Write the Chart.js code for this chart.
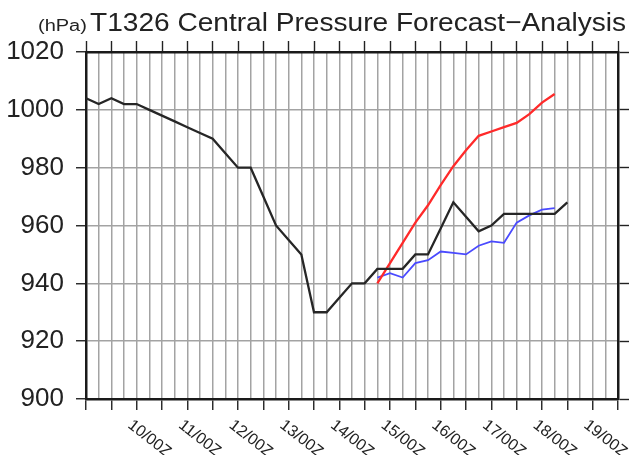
<!DOCTYPE html>
<html>
<head>
<meta charset="utf-8">
<script src="https://cdn.jsdelivr.net/npm/chart.js@4.4.0/dist/chart.umd.min.js"></script>
<style>
html, body { margin: 0; padding: 0; background: #fff; }
</style>
</head>
<body>
<canvas id="pressureChart" width="642" height="455"></canvas>
<script>
// T1326 central pressure: analysis (black) and two forecast runs (red, blue)

const unitLabel = '(hPa)';
const titleText = 'T1326 Central Pressure Forecast\u2212Analysis';

// 6-hourly times, 09/00Z to 19/12Z
const times = [
    '09/00Z','09/06Z','09/12Z','09/18Z','10/00Z','10/06Z','10/12Z','10/18Z',
    '11/00Z','11/06Z','11/12Z','11/18Z','12/00Z','12/06Z','12/12Z','12/18Z',
    '13/00Z','13/06Z','13/12Z','13/18Z','14/00Z','14/06Z','14/12Z','14/18Z',
    '15/00Z','15/06Z','15/12Z','15/18Z','16/00Z','16/06Z','16/12Z','16/18Z',
    '17/00Z','17/06Z','17/12Z','17/18Z','18/00Z','18/06Z','18/12Z','18/18Z',
    '19/00Z','19/06Z','19/12Z'
];
const xDayLabels = ['10/00Z','11/00Z','12/00Z','13/00Z','14/00Z','15/00Z','16/00Z','17/00Z','18/00Z','19/00Z'];
const yTickLabels = [900, 920, 940, 960, 980, 1000, 1020];

// analysis, every 6h from 09/00Z
const analysis = [1004, 1002, 1004, 1002, 1002, 1000, 998, 996, 994, 992, 990, 985, 980, 980,
    970, 960, 955, 950, 930, 930, 935, 940, 940, 945, 945, 945, 950, 950, 959, 968,
    963, 958, 960, 964, 964, 964, 964, 964, 968];

// forecasts, every 6h from 14/18Z
const forecastStart = '14/18Z';
const forecastRed = [940, 947, 954, 961, 967, 974, 980.5, 986, 991, 992.5, 994, 995.5, 998.5, 1002.5, 1005.5];
const forecastBlue = [942, 943.5, 942, 947, 948, 951, 950.5, 950, 953, 954.5, 954, 961, 963.5, 965.5, 966];

const startIdx = times.indexOf(forecastStart);
const toPoints = (vals, offset) => vals.map((v, i) => ({x: times[offset + i], y: v}));

const textPlugin = {
    id: 'textPlugin',
    afterDraw(chart) {
        const ctx = chart.ctx;
        const area = chart.chartArea;
        ctx.save();
        ctx.fillStyle = '#222';
        ctx.textBaseline = 'alphabetic';

        // small unit prefix, then the title
        ctx.save();
        ctx.scale(1.25, 1);
        ctx.font = '16px "Liberation Sans", Arial, sans-serif';
        ctx.fillText(unitLabel, 38 / 1.25, 31);
        ctx.restore();
        ctx.save();
        ctx.scale(1.08, 1);
        ctx.font = '26px "Liberation Sans", Arial, sans-serif';
        ctx.fillText(titleText, 90 / 1.08, 31);
        ctx.restore();

        // slanted date labels
        const xs = chart.scales.x;
        ctx.font = '16px "Liberation Sans", Arial, sans-serif';
        ctx.textBaseline = 'top';
        xDayLabels.forEach(lbl => {
            const px = xs.getPixelForValue(times.indexOf(lbl));
            ctx.save();
            ctx.translate(px - 2, area.bottom + 18);
            ctx.rotate(38 * Math.PI / 180);
            ctx.fillText(lbl, 0, 0);
            ctx.restore();
        });
        ctx.restore();
    }
};

const gridColor = '#a3a3a3';
const majorX = c => (c.index % 2 === 0 ? '#222' : 'rgba(0,0,0,0)');
const majorY = c => (yTickLabels.includes(c.tick.value) ? '#222' : 'rgba(0,0,0,0)');
const border = {display: true, color: '#1a1a1a', width: 2.5};

new Chart(document.getElementById('pressureChart'), {
    type: 'line',
    data: {
        labels: times,
        datasets: [
        {
            label: 'Analysis',
            data: toPoints(analysis, 0),
            borderColor: '#262626',
            borderWidth: 2.3,
        },
        {
            label: 'Forecast A',
            data: toPoints(forecastRed, startIdx),
            borderColor: '#ff2a2a',
            borderWidth: 2.3,
        },
        {
            label: 'Forecast B',
            data: toPoints(forecastBlue, startIdx),
            borderColor: '#4a4aff',
            borderWidth: 1.8,
        }
        ]
    },
    options: {
        responsive: false,
        animation: false,
        elements: {
            point: { radius: 0 },
            line: { tension: 0 }
        },
        layout: { padding: 0 },
        plugins: {
            legend: { display: false },
            tooltip: { enabled: false }
        },
        scales: {
            x: {
                type: 'category',
                position: 'bottom',
                offset: false,
                grid: {
                    color: gridColor,
                    lineWidth: 1.5,
                    tickColor: majorX,
                    tickWidth: 1.4,
                    tickLength: 11,
                    offset: false
                },
                border: border,
                ticks: { display: false, autoSkip: false },
                afterFit: s => { s.height = 56; }
            },
            x2: {
                type: 'category',
                position: 'top',
                labels: times,
                offset: false,
                grid: {
                    drawOnChartArea: false,
                    tickColor: majorX,
                    tickWidth: 1.4,
                    tickLength: 11,
                    offset: false
                },
                border: border,
                ticks: { display: false, autoSkip: false },
                afterFit: s => { s.height = 52; }
            },
            y: {
                min: 900,
                max: 1020,
                grid: {
                    color: gridColor,
                    lineWidth: 1.5,
                    tickColor: majorY,
                    tickWidth: 1.4,
                    tickLength: 10
                },
                border: border,
                ticks: {
                    stepSize: 10,
                    padding: 12,
                    color: '#222',
                    font: { family: '"Liberation Sans", Arial, sans-serif', size: 26 },
                    callback: v => (yTickLabels.includes(v) ? String(v) : '')
                },
                afterFit: s => { s.width = 86; }
            },
            y2: {
                position: 'right',
                min: 900,
                max: 1020,
                grid: {
                    drawOnChartArea: false,
                    tickColor: '#222',
                    tickWidth: 1.4,
                    tickLength: 11
                },
                border: border,
                ticks: { display: false, stepSize: 20 },
                afterFit: s => { s.width = 24; }
            }
        }
    },
    plugins: [textPlugin]
});
</script>
</body>
</html>
